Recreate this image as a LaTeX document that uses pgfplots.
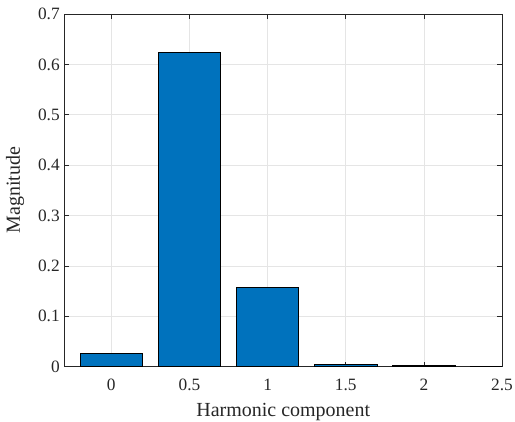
\documentclass[border=0pt]{standalone}
\usepackage{fontspec}
\setmainfont{Liberation Serif}
\usepackage{pgfplots}
\pgfplotsset{compat=1.18}
\definecolor{mblue}{HTML}{0072BD}
\definecolor{axgray}{HTML}{262626}
\begin{document}
\begin{tikzpicture}[x=1pt,y=1pt]
\useasboundingbox (-48.375,-41.25) rectangle (338.25,275.25);
\begin{axis}[
  at={(0,0)}, anchor=south west,
  scale only axis,
  width=328.5pt, height=264.75pt,
  xmin=-0.3, xmax=2.5,
  ymin=0, ymax=0.7,
  xtick={0,0.5,1,1.5,2,2.5},
  xticklabels={0,0.5,1,1.5,2,2.5},
  ytick={0,0.1,0.2,0.3,0.4,0.5,0.6,0.7},
  yticklabels={0,0.1,0.2,0.3,0.4,0.5,0.6,0.7},
  /pgf/number format/assume math mode=true,
  tick align=inside,
  major tick length=3.5pt,
  xtick pos=both, ytick pos=both,
  grid=major,
  grid style={color=black!10, line width=0.4pt},
  axis line style={color=axgray, line width=0.5pt},
  tick style={color=axgray, line width=0.5pt},
  ticklabel style={font=\fontsize{13}{15}\selectfont, text=axgray},
  xticklabel style={yshift=-6pt},
  label style={font=\fontsize{15}{17}\selectfont, text=axgray},
  xlabel={Harmonic component},
  ylabel={Magnitude},
  xlabel style={at={(axis description cs:0.5,0)}, anchor=center, yshift=-34pt},
  ylabel style={at={([xshift=-37pt]axis description cs:0,0.5)}, anchor=center},
  clip=true,
]
\addplot[ybar, bar width=0.4, fill=mblue, draw=black, line width=0.6pt, bar shift=0pt]
  coordinates {(0,0.0266) (0.5,0.623) (1,0.1575) (1.5,0.004) (2,0.0015) (2.5,0.0012)};
\end{axis}
\end{tikzpicture}
\end{document}
